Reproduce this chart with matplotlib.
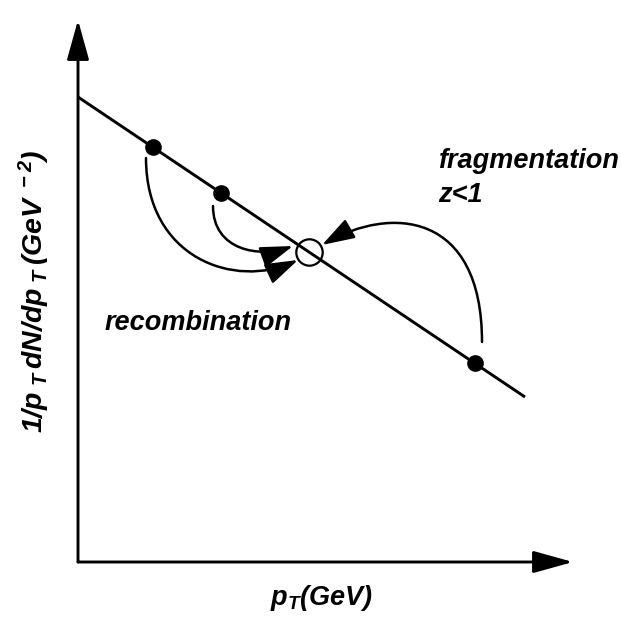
import matplotlib
matplotlib.use("Agg")
import numpy as np
import matplotlib.pyplot as plt
from matplotlib.patches import FancyArrowPatch
from matplotlib.path import Path

# --- datos del esquema (unidades arbitrarias, origen en el cruce de ejes) ---
recta_x = [0.0, 4.47]
recta_y = [4.65, 1.65]

puntos_x = [0.75, 1.43, 3.97]
puntos_y = [4.15, 3.69, 1.99]

hadron_x = [2.31]
hadron_y = [3.10]

# flechas: inicio, fin, direccion de salida (grados), direccion de llegada (grados)
flechas = [
    ((0.68, 4.04), (2.20, 3.02), -90, 25),    # recombinacion larga
    ((1.35, 3.56), (2.15, 3.16), -90, 20),    # recombinacion corta
    ((4.04, 2.20), (2.44, 3.17), 90, 210),    # fragmentacion
]
# longitud de los tramos de control de cada curva
tramos = [(1.0, 0.7), (0.45, 0.35), (1.3, 0.8)]

eje_x_fin = 4.95
eje_y_fin = 5.42

plt.rcParams["mathtext.fontset"] = "custom"
plt.rcParams["mathtext.rm"] = "Liberation Sans:bold:italic"
plt.rcParams["mathtext.it"] = "Liberation Sans:bold:italic"
plt.rcParams["mathtext.bf"] = "Liberation Sans:bold:italic"

fig = plt.figure(figsize=(6.21, 6.19), dpi=100)
ax = fig.add_axes([0, 0, 1, 1])
ax.set_xlim(-0.78, 5.43)
ax.set_ylim(-0.57, 5.62)
ax.axis("off")

# ejes con flecha
for fin in [(eje_x_fin, 0.0), (0.0, eje_y_fin)]:
    ax.add_patch(FancyArrowPatch((0.0, 0.0), fin, arrowstyle="-|>,head_length=2.45,head_width=0.68",
                                 mutation_scale=10, color="black", lw=2.1,
                                 shrinkA=0, shrinkB=0))

# espectro
ax.plot(recta_x, recta_y, color="black", lw=2.1, solid_capstyle="butt")
ax.plot(puntos_x, puntos_y, "o", color="black", markersize=11)
ax.plot(hadron_x, hadron_y, "o", mfc="none", mec="black", mew=1.6, markersize=19)

# flechas curvas (bezier cubica)
for (inicio, fin, ang0, ang1), (l0, l1) in zip(flechas, tramos):
    p0 = np.array(inicio)
    p3 = np.array(fin)
    d0 = np.array([np.cos(np.radians(ang0)), np.sin(np.radians(ang0))])
    d1 = np.array([np.cos(np.radians(ang1)), np.sin(np.radians(ang1))])
    p1 = p0 + d0 * l0
    p2 = p3 - d1 * l1
    camino = Path([p0, p1, p2, p3], [Path.MOVETO, Path.CURVE4, Path.CURVE4, Path.CURVE4])
    ax.add_patch(FancyArrowPatch(path=camino,
                                 arrowstyle="-|>,head_length=2.0,head_width=0.65",
                                 mutation_scale=10, color="black", lw=1.8,
                                 shrinkA=0, shrinkB=0))

estilo = dict(family="Liberation Sans", fontweight="bold", fontstyle="italic", fontsize=19.5)
ax.text(3.60, 3.94, "fragmentation", ha="left", va="baseline", **estilo)
ax.text(3.60, 3.60, "z<1", ha="left", va="baseline", **estilo)
ax.text(0.27, 2.32, "recombination", ha="left", va="baseline", **estilo)

ax.text(2.44, -0.43, r"$p_T(GeV)$", ha="center", va="baseline", fontsize=19.5)
ax.text(-0.44, 2.71, r"$1/p_{\ T}\,dN/dp_{\ T}\,(GeV^{\ -2})$", ha="center", va="center",
        rotation=90, fontsize=20.5)

fig.savefig("out.png", dpi=100)
